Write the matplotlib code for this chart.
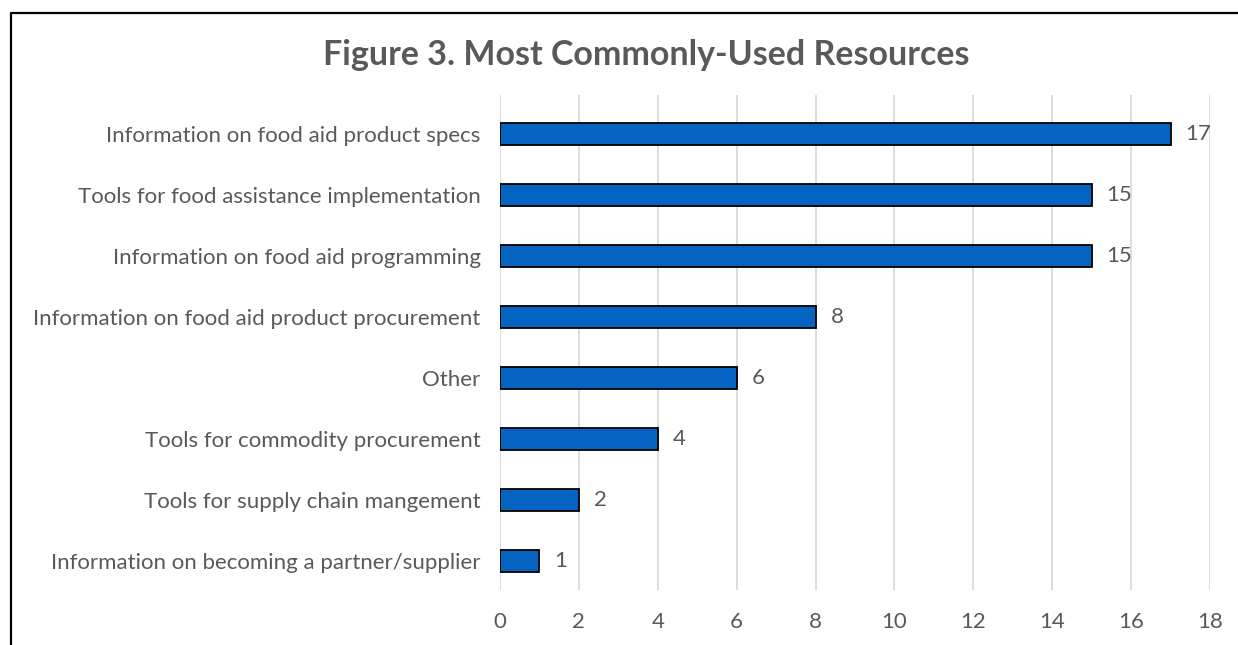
import matplotlib.pyplot as plt
from matplotlib.lines import Line2D

# data
categories = ["Information on food aid product specs",
              "Tools for food assistance implementation",
              "Information on food aid programming",
              "Information on food aid product procurement",
              "Other",
              "Tools for commodity procurement",
              "Tools for supply chain mangement",
              "Information on becoming a partner/supplier"]
counts = [17, 15, 15, 8, 6, 4, 2, 1]
xticks = [0, 2, 4, 6, 8, 10, 12, 14, 16, 18]

grey = '#595959'
plt.rcParams['font.family'] = ['Lato', 'DejaVu Sans']

fig = plt.figure(figsize=(12.38, 6.45), dpi=100)
ax = fig.add_axes([500/1238, 1-590/645, 710/1238, 495/645])

ypos = list(range(len(categories)))
ax.barh(ypos, counts, height=0.37, color='#0563C1', edgecolor='black', linewidth=1.3, zorder=3)
for y, v in zip(ypos, counts):
    ax.text(v + 0.38, y, str(v), va='center', ha='left', fontsize=16, color=grey)

ax.set_xlim(0, 18)
ax.set_ylim(len(categories) - 1 + 0.475, -0.64)
ax.set_xticks(xticks)
ax.set_yticks(ypos)
ax.set_yticklabels(categories)
ax.tick_params(axis='both', length=0, labelsize=16, labelcolor=grey)
ax.tick_params(axis='x', pad=16)
ax.tick_params(axis='y', pad=14)
ax.grid(axis='x', color='#D9D9D9', linewidth=1.3, zorder=0)
for s in ax.spines.values():
    s.set_visible(False)

fig.text(646/1238, 1-55/645, "Figure 3. Most Commonly-Used Resources", ha='center', va='center',
         fontsize=24.5, fontweight='bold', color=grey)

# outer border (top and left)
fig.add_artist(Line2D([11/1238, 11/1238, 1], [0, 1-13/645, 1-13/645], color='black', linewidth=1.6,
                      transform=fig.transFigure))

fig.savefig('out.png', dpi=100)
